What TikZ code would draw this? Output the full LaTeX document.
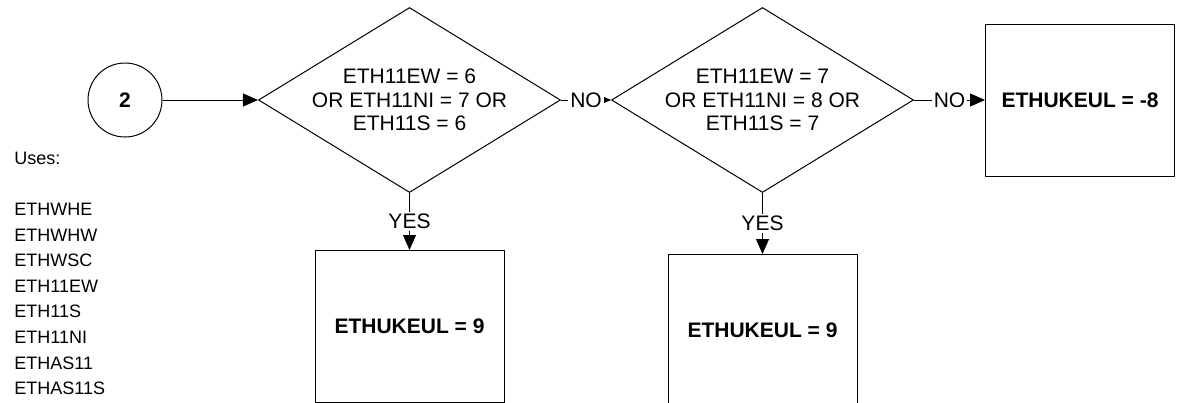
\documentclass[tikz,border=0pt]{standalone}
\usepackage{fontspec}
\setmainfont{Liberation Sans}
\usepackage{tikz}
\usetikzlibrary{arrows.meta, positioning, shapes.geometric}

\begin{document}
\begin{tikzpicture}[
        x=0.5pt, y=-0.5pt,
        every node/.style={font=\fontsize{10.5}{11.65}\selectfont},
        connector/.style={
            circle,
            draw=black,
            line width=0.5pt,
            minimum size=37pt,
            inner sep=0pt,
            font=\fontsize{10.5}{11.65}\selectfont\bfseries
        },
        decision/.style={
            diamond,
            draw=black,
            line width=0.5pt,
            align=center,
            aspect=1.63,
            inner xsep=-6pt,
            inner ysep=0pt,
            minimum width=151pt,
            minimum height=92.5pt
        },
        result/.style={
            rectangle,
            draw=black,
            line width=0.5pt,
            minimum width=94.5pt,
            minimum height=76pt,
            font=\fontsize{10.5}{11.65}\selectfont\bfseries
        },
        arrow/.style={-{Triangle[length=7.5pt, width=6.5pt]}, line width=0.5pt, draw=black},
        branch/.style={fill=white, inner sep=1pt}
    ]
        \useasboundingbox (0,0) rectangle (1179,402);

        \node[connector] (start) at (125,100) {2};
        \node[decision, right=47.75pt of start] (ethsix) {ETH11EW = 6\\OR ETH11NI = 7 OR\\ETH11S = 6};
        \node[decision, right=25pt of ethsix] (ethseven) {ETH11EW = 7\\OR ETH11NI = 8 OR\\ETH11S = 7};
        \node[result, right=35.5pt of ethseven] (minuseight) {ETHUKEUL = -8};
        \node[result, below=28.5pt of ethsix] (ninefirst) {ETHUKEUL = 9};
        \node[result, below=30.5pt of ethseven] (ninesecond) {ETHUKEUL = 9};

        % variables used
        \node[anchor=north west, align=left, inner sep=0pt, font=\fontsize{9}{12.8}\selectfont] (uses) at (14,151.5)
            {Uses:\\[12.8pt]ETHWHE\\ETHWHW\\ETHWSC\\ETH11EW\\ETH11S\\ETH11NI\\ETHAS11\\ETHAS11S};

        \draw[arrow] (start) -- (ethsix);
        \draw[arrow] (ethsix) -- node[branch] (nofirst) {NO} (ethseven);
        \draw[arrow] (ethseven) -- node[branch] (nosecond) {NO} (minuseight);
        \draw[arrow] (ethsix) -- node[branch] (yesfirst) {YES} (ninefirst);
        \draw[arrow] (ethseven) -- node[branch] (yessecond) {YES} (ninesecond);
    \end{tikzpicture}
\end{document}
